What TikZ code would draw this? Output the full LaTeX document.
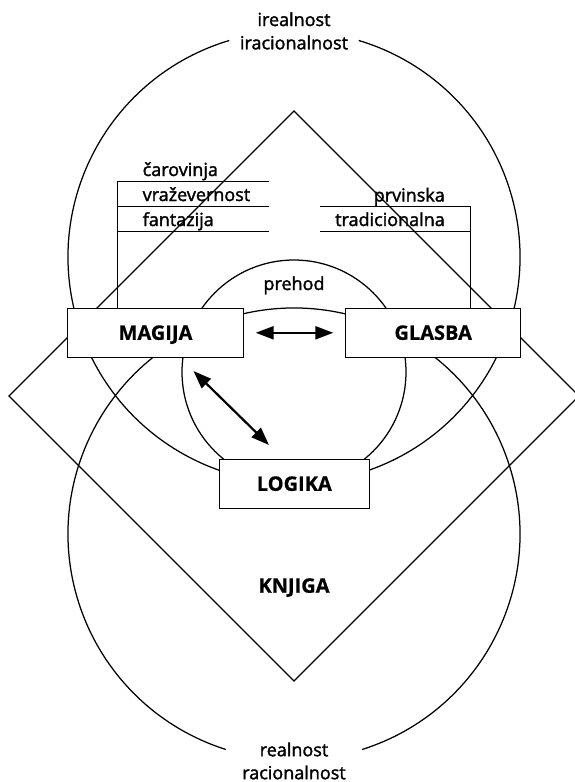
\documentclass[tikz,border=0pt]{standalone}
\usepackage{fontspec}
\setmainfont{Open Sans}
\newfontfamily\lblfont{Open Sans}[FakeBold=1.8]
\newfontfamily\boxfont{Open Sans}[BoldFeatures={FakeBold=0.6}]
\usetikzlibrary{arrows.meta,backgrounds}
\begin{document}
\begin{tikzpicture}[x=1pt,y=-1pt,
  line/.style={line width=1.25pt},
  lbl/.style={font=\lblfont\fontsize{18}{20}\selectfont, inner sep=0pt},
  big/.style={font=\boxfont\bfseries\fontsize{20}{24}\selectfont, inner sep=0pt},
  box/.style={draw, line width=1.4pt, fill=white, font=\boxfont\bfseries\fontsize{20}{24}\selectfont, text height=14pt, text depth=0pt, inner sep=0pt, minimum height=49pt},
  dbl/.style={line width=2.2pt, {Triangle[length=18pt,width=13pt]}-{Triangle[length=18pt,width=13pt]}}
]
\path[use as bounding box, clip] (0,0) rectangle (575,782);
% boxes
\node[box, minimum width=175.6pt] (magija) at (155.5,332.8) {MAGIJA};
\node[box, minimum width=175pt] (glasba) at (433.2,332.8) {GLASBA};
\node[box, minimum width=150pt] (logika) at (294.3,483.8) {LOGIKA};
% labels
\node[lbl, anchor=base] (irl) at (294,26) {irealnost};
\node[lbl, anchor=base] (irc) at (294,49.3) {iracionalnost};
\node[lbl, anchor=base] (rl) at (294,756.2) {realnost};
\node[lbl, anchor=base] (rc) at (294,779.2) {racionalnost};
\node[lbl, anchor=base] (prehod) at (294,290) {prehod};
\node[big, anchor=base] (knjiga) at (294,592.7) {KNJIGA};
\node[lbl, anchor=base west] (t1) at (142.5,176) {čarovinja};
\node[lbl, anchor=base west] (t2) at (142.5,201) {vraževernost};
\node[lbl, anchor=base west] (t3) at (142.5,226) {fantazija};
\node[lbl, anchor=base east] (t4) at (445,201.5) {prvinska};
\node[lbl, anchor=base east] (t5) at (445,226) {tradicionalna};
\coordinate (lt) at (117.5,181.7);
\coordinate (rt) at (470.8,206.7);
% arrows
\draw[dbl] ([xshift=11.7pt]magija.east) -- ([xshift=-11.7pt]glasba.west);
\coordinate (a1) at (193.5,371);
\coordinate (a2) at (269,445);
\draw[dbl] (a1) -- (a2);
\begin{pgfonlayer}{background}
% upper circle
\draw[line] ([shift={(106.65:226pt)}]294,257) arc[start angle=106.65, end angle=433.35, radius=226pt];
% lower circle
\draw[line] ([shift={(-72.45:226pt)}]294,534) arc[start angle=-72.45, end angle=252.45, radius=226pt];
% small circle
\draw[line] (294,372) circle[radius=112pt];
% diamond
\draw[line] (294,111) -- (579,396) -- (294,681) -- (9,396) -- cycle;
% left block
\draw[line] (magija.north -| lt) -- (lt) -- ++(151.3,0);
\draw[line] ([yshift=-25pt]lt) -- ++(151.3,0);
\draw[line] ([yshift=-50pt]lt) -- ++(151.3,0);
% right block
\draw[line] (glasba.north -| rt) -- (rt) -- ++(-151,0);
\draw[line] ([yshift=-25pt]rt) -- ++(-151,0);
\end{pgfonlayer}
\end{tikzpicture}
\end{document}
